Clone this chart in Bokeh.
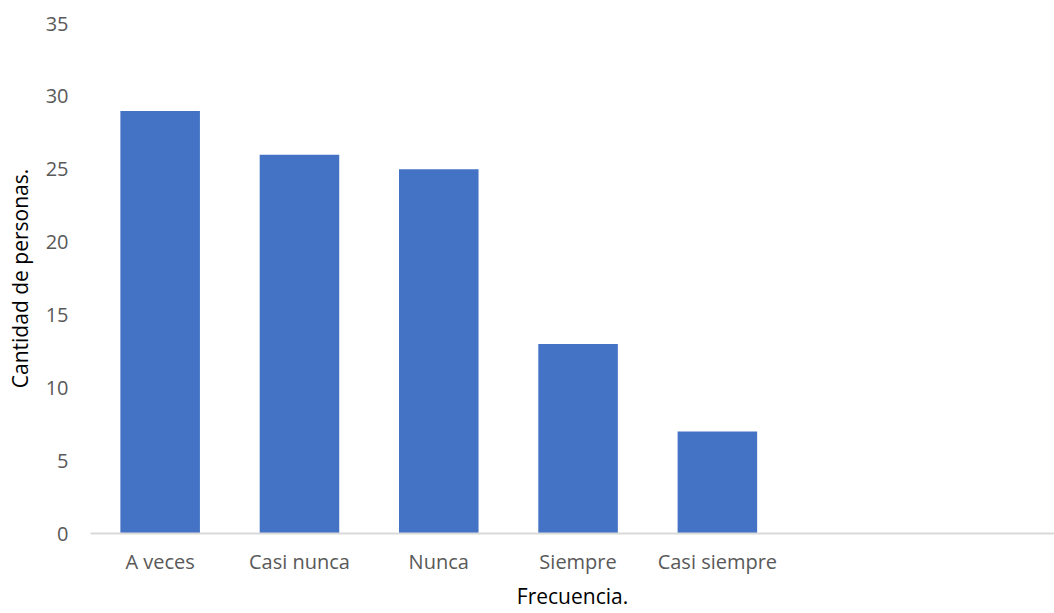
from bokeh.plotting import figure
from bokeh.models import FixedTicker
from bokeh.embed import file_html
from bokeh.resources import INLINE

# Survey answers: how often, and how many people gave each answer
categorias = ["A veces", "Casi nunca", "Nunca", "Siempre", "Casi siempre"]
personas = [29, 26, 25, 13, 7]
y_ticks = [0, 5, 10, 15, 20, 25, 30, 35]

FONT = "Open Sans"
TICK_COLOR = "#595959"

posiciones = [i + 0.5 for i in range(len(categorias))]

p = figure(
    width=1054, height=613,
    x_range=(0, 6.92), y_range=(0, 35),
    output_backend="svg", toolbar_location=None,
    min_border_left=90, min_border_right=0,
    min_border_top=23, min_border_bottom=80,
)
p.outline_line_color = None
p.xgrid.grid_line_color = None
p.ygrid.grid_line_color = None

p.vbar(x=posiciones, top=personas, width=0.571, bottom=0,
       fill_color="#4472C4", line_color=None)

# Category axis
p.xaxis.ticker = FixedTicker(ticks=posiciones)
p.xaxis.major_label_overrides = {pos: cat for pos, cat in zip(posiciones, categorias)}
p.xaxis.axis_line_color = "#D9D9D9"
p.xaxis.axis_line_width = 2
p.xaxis.major_tick_line_color = None
p.xaxis.minor_tick_line_color = None
p.xaxis.major_label_text_font = FONT
p.xaxis.major_label_text_font_size = "20px"
p.xaxis.major_label_text_color = TICK_COLOR
p.xaxis.major_label_standoff = 8
p.xaxis.axis_label = "Frecuencia."
p.xaxis.axis_label_text_font = FONT
p.xaxis.axis_label_text_font_size = "21px"
p.xaxis.axis_label_text_font_style = "normal"
p.xaxis.axis_label_text_color = "#000000"
p.xaxis.axis_label_standoff = 4

# Count axis
p.yaxis.ticker = FixedTicker(ticks=y_ticks)
p.yaxis.axis_line_color = None
p.yaxis.major_tick_line_color = None
p.yaxis.minor_tick_line_color = None
p.yaxis.major_label_text_font = FONT
p.yaxis.major_label_text_font_size = "20px"
p.yaxis.major_label_text_color = TICK_COLOR
p.yaxis.major_label_standoff = 16
p.yaxis.axis_label = "Cantidad de personas."
p.yaxis.axis_label_text_font = FONT
p.yaxis.axis_label_text_font_size = "21px"
p.yaxis.axis_label_text_font_style = "normal"
p.yaxis.axis_label_text_color = "#000000"
p.yaxis.axis_label_standoff = 9

open("out.html", "w").write(file_html(p, INLINE))
